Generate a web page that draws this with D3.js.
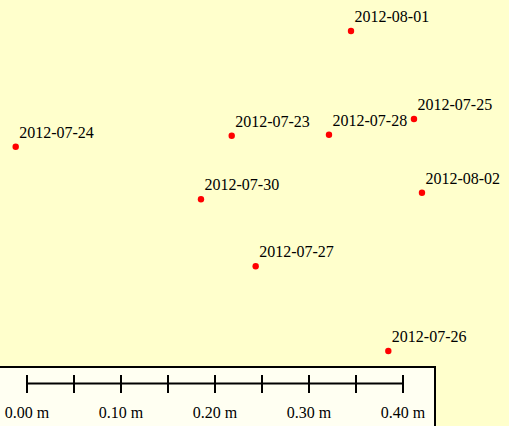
<!DOCTYPE html>
<html>
<head>
<meta charset="utf-8">
<script src="https://cdn.jsdelivr.net/npm/d3@7"></script>
<style>
  html, body { margin: 0; padding: 0; background: #ffffcc; overflow: hidden; }
  svg { display: block; }
</style>
</head>
<body>
<script>
// Point labels (dates) and their positions in metres (origin top-left)
const dates = ["2012-07-23","2012-07-24","2012-07-25","2012-07-26","2012-07-27","2012-07-28","2012-07-30","2012-08-01","2012-08-02"];
const xMetres = [0.2465, 0.0167, 0.4404, 0.4131, 0.2720, 0.3500, 0.2138, 0.3734, 0.4489];
const yMetres = [0.1444, 0.1561, 0.1266, 0.3734, 0.2833, 0.1433, 0.2120, 0.0330, 0.2050];
// Scale bar
const scaleTicks = [0, 0.05, 0.10, 0.15, 0.20, 0.25, 0.30, 0.35, 0.40];
const scaleLabels = [0, 0.10, 0.20, 0.30, 0.40];

const W = 509, H = 426;
const pxPerMetre = 940;
const FONT = "Liberation Serif";

const svg = d3.select("body").append("svg").attr("width", W).attr("height", H);
svg.append("rect").attr("width", W).attr("height", H).attr("fill", "#ffffcc");

const sx = d3.scaleLinear().domain([0, W / pxPerMetre]).range([0, W]);
const sy = d3.scaleLinear().domain([0, H / pxPerMetre]).range([0, H]);

const pts = dates.map((d, i) => ({ date: d, x: xMetres[i], y: yMetres[i] }));

const g = svg.append("g");
g.selectAll("circle").data(pts).enter().append("circle")
  .attr("cx", d => sx(d.x)).attr("cy", d => sy(d.y))
  .attr("r", 3.2).attr("fill", "#ff0000");
g.selectAll("text").data(pts).enter().append("text")
  .attr("x", d => sx(d.x) + 3.5).attr("y", d => sy(d.y) - 9)
  .style("font-family", FONT).style("font-size", "16px").style("fill", "#000")
  .text(d => d.date);

// Scale bar box
const box = svg.append("g");
box.append("rect").attr("x", -2).attr("y", 367).attr("width", 437).attr("height", 70)
  .attr("fill", "#fffff2").attr("stroke", "#000").attr("stroke-width", 2);

const bx = d3.scaleLinear().domain([0, 0.4]).range([27, 27 + 0.4 * pxPerMetre]);
const barY = 383.5;
box.append("line").attr("x1", bx(0)).attr("x2", bx(0.4)).attr("y1", barY).attr("y2", barY)
  .attr("stroke", "#000").attr("stroke-width", 2);
box.selectAll("line.tick").data(scaleTicks).enter().append("line").attr("class", "tick")
  .attr("x1", d => bx(d)).attr("x2", d => bx(d)).attr("y1", 375).attr("y2", 393)
  .attr("stroke", "#000").attr("stroke-width", 2);
box.selectAll("text").data(scaleLabels).enter().append("text")
  .attr("x", d => bx(d)).attr("y", 418).attr("text-anchor", "middle")
  .style("font-family", FONT).style("font-size", "16px").style("fill", "#000")
  .text(d => d3.format(".2f")(d) + " m");
</script>
</body>
</html>
